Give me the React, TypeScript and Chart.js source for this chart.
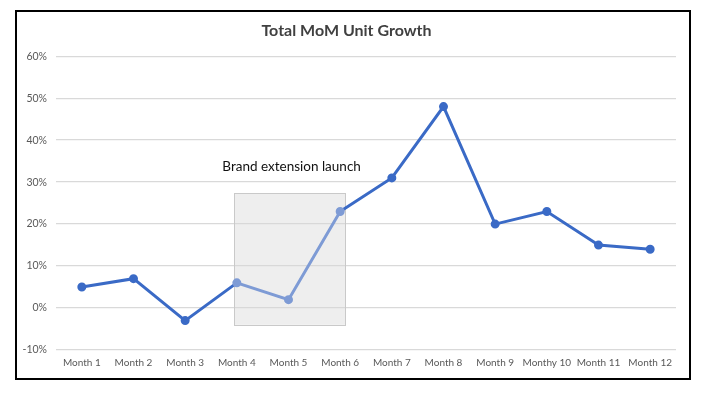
import React, { useEffect, useRef } from "react";
import { Chart, registerables } from "chart.js";

Chart.register(...registerables);

const categories = ["Month 1", "Month 2", "Month 3", "Month 4", "Month 5", "Month 6", "Month 7", "Month 8", "Month 9", "Monthy 10", "Month 11", "Month 12"];
const growth = [5, 7, -3, 6, 2, 23, 31, 48, 20, 23, 15, 14];
const yTicks = [-10, 0, 10, 20, 30, 40, 50, 60];
const titleText = "Total MoM Unit Growth";
const annotationText = "Brand extension launch";
const boxXStart = 2.95;
const boxXEnd = 5.1;
const boxYTop = 27.4;
const boxYBottom = -4;
const annotationX = 4.06;
const annotationY = 33.8;
const highlighted = [3, 4, 5];

const LINE = "#3a6ac6";
const LIGHT = "#7e9bd5";
const FONT = "Lato, 'Open Sans', sans-serif";

const boxPlugin = {
  id: "boxPlugin",
  beforeDatasetsDraw(chart: any) {
    const { ctx, scales } = chart;
    const x = scales.x, y = scales.y;
    const x0 = x.getPixelForValue(boxXStart);
    const x1 = x.getPixelForValue(boxXEnd);
    const y0 = y.getPixelForValue(boxYTop);
    const y1 = y.getPixelForValue(boxYBottom);
    ctx.save();
    ctx.fillStyle = "rgba(215,215,215,0.42)";
    ctx.fillRect(x0, y0, x1 - x0, y1 - y0);
    ctx.strokeStyle = "#c9c9c9";
    ctx.lineWidth = 1;
    ctx.strokeRect(Math.round(x0) + 0.5, Math.round(y0) + 0.5, Math.round(x1 - x0), Math.round(y1 - y0));
    ctx.restore();
  },
  afterDatasetsDraw(chart: any) {
    const { ctx, scales } = chart;
    const x = scales.x, y = scales.y;
    ctx.save();
    ctx.fillStyle = "#111";
    ctx.font = `13.5px ${FONT}`;
    ctx.textAlign = "center";
    ctx.textBaseline = "middle";
    ctx.fillText(annotationText, x.getPixelForValue(annotationX), y.getPixelForValue(annotationY));
    ctx.restore();
  },
};

export default function App() {
  const ref = useRef<HTMLCanvasElement | null>(null);
  useEffect(() => {
    if (!ref.current) return;
    const chart = new Chart(ref.current, {
      type: "line",
      data: {
        labels: categories,
        datasets: [
          {
            data: growth,
            borderColor: LINE,
            borderWidth: 3,
            pointRadius: 3,
            pointBackgroundColor: growth.map((_, i) => (highlighted.includes(i) ? LIGHT : LINE)),
            pointBorderColor: growth.map((_, i) => (highlighted.includes(i) ? LIGHT : LINE)),
            tension: 0,
            segment: {
              borderColor: (c: any) => (highlighted.includes(c.p0DataIndex) && highlighted.includes(c.p1DataIndex) ? LIGHT : LINE),
            },
          },
        ],
      },
      options: {
        animation: false,
        responsive: true,
        maintainAspectRatio: false,
        layout: { padding: { left: 0, right: 13, top: 0, bottom: 2 } },
        plugins: {
          legend: { display: false },
          tooltip: { enabled: false },
          title: {
            display: true,
            text: titleText,
            color: "#404040",
            font: { family: FONT, size: 16, weight: "bold" },
            padding: { top: 9, bottom: 16 },
          },
        },
        scales: {
          x: {
            offset: true,
            grid: { display: false, drawTicks: false },
            border: { display: false },
            ticks: { color: "#595959", font: { family: FONT, size: 10 }, maxRotation: 0, autoSkip: false, padding: 7 },
          },
          y: {
            min: -10,
            max: 60,
            afterBuildTicks: (s: any) => { s.ticks = yTicks.map((v) => ({ value: v })); },
            afterFit: (s: any) => { s.width = 39; },
            grid: { color: "#d9d9d9", lineWidth: 1.3, drawTicks: false },
            border: { display: false },
            ticks: { color: "#595959", font: { family: FONT, size: 10.5 }, padding: 9, callback: (v: any) => `${v}%` },
          },
        },
      },
      plugins: [boxPlugin],
    });
    return () => chart.destroy();
  }, []);
  return (
    <div style={{ position: "absolute", left: 15, top: 10, width: 676, height: 370, border: "2px solid #000", boxSizing: "border-box", background: "#fff" }}>
      <canvas ref={ref} />
    </div>
  );
}
